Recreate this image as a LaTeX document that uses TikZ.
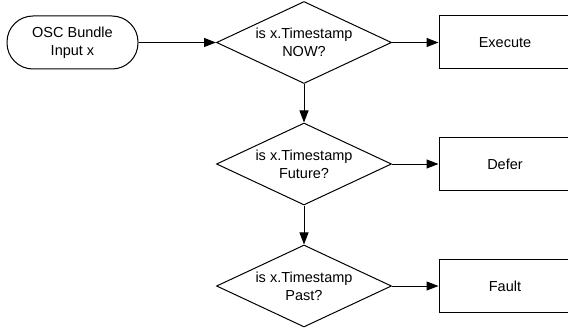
\documentclass[tikz,border=0pt]{standalone}
\usepackage{fontspec}
\setmainfont{Liberation Sans}
\usetikzlibrary{shapes.geometric,arrows.meta}
\begin{document}
\begin{tikzpicture}[x=1pt,y=-1pt,
  every node/.style={font=\fontsize{14.5}{18}\selectfont, align=center, line width=1pt},
  startbox/.style={draw, rounded corners=26pt, minimum width=131pt, minimum height=53pt, inner sep=0pt},
  decision/.style={draw, diamond, aspect=2.134, minimum width=175pt, minimum height=82pt, inner sep=-3pt},
  actionbox/.style={draw, rectangle, minimum width=132pt, minimum height=53pt, inner sep=0pt},
  flow/.style={draw, line width=1pt, -{Triangle[length=12pt,width=9pt]}}]
\useasboundingbox (0,0) rectangle (568,329);
\node[startbox] (start) at (72.5,42.5) {OSC Bundle\\Input x};
\node[decision] (d1) at (304,42.5) {is x.Timestamp\\NOW?};
\node[decision] (d2) at (304,164) {is x.Timestamp\\Future?};
\node[decision] (d3) at (304,286) {is x.Timestamp\\Past?};
\node[actionbox] (exec) at (505,42.5) {Execute};
\node[actionbox] (defer) at (505,164) {Defer};
\node[actionbox] (fault) at (505,286) {Fault};
\path[flow] (start) -- (d1);
\path[flow] (d1) -- (exec);
\path[flow] (d1) -- (d2);
\path[flow] (d2) -- (defer);
\path[flow] (d2) -- (d3);
\path[flow] (d3) -- (fault);
\end{tikzpicture}
\end{document}
